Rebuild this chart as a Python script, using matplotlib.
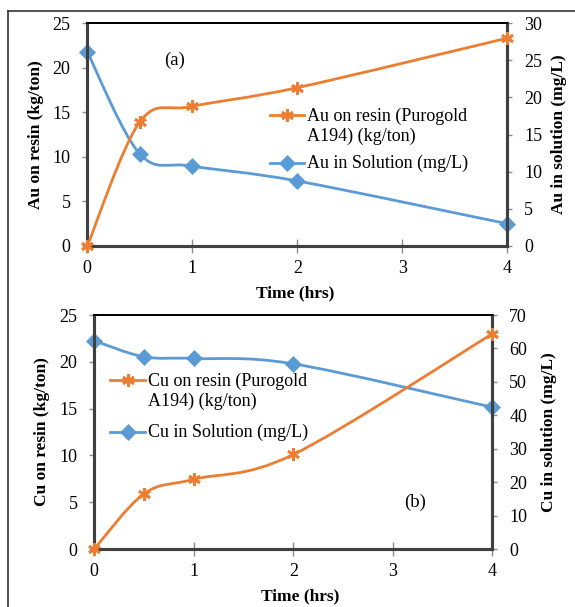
import numpy as np
import matplotlib
matplotlib.use("Agg")
import matplotlib.pyplot as plt
from matplotlib.path import Path
from matplotlib.patches import PathPatch
from matplotlib.lines import Line2D

plt.rcParams['font.family'] = ['Liberation Serif', 'DejaVu Serif']

time_hrs = [0, 0.5, 1, 2, 4]
au_on_resin = [0, 13.9, 15.65, 17.75, 23.3]
au_in_solution = [26.1, 12.4, 10.75, 8.75, 3.0]
cu_on_resin = [0, 5.9, 7.45, 10.1, 23.0]
cu_in_solution = [62.3, 57.5, 57.0, 55.4, 42.4]

ORANGE = '#ED7D31'
BLUE = '#5B9BD5'
SPINE = '#404040'
TICK = '#8C8C8C'
ASTERISK = (6, 2, 0)
W, H = 575, 607


def smooth_path(x, y):
    x = np.asarray(x, float)
    y = np.asarray(y, float)
    n = len(x)
    verts = [(x[0], y[0])]
    codes = [Path.MOVETO]
    for i in range(n - 1):
        i0 = max(i - 1, 0)
        i3 = min(i + 2, n - 1)
        c1 = (x[i] + (x[i + 1] - x[i0]) / 6, y[i] + (y[i + 1] - y[i0]) / 6)
        c2 = (x[i + 1] - (x[i3] - x[i]) / 6, y[i + 1] - (y[i3] - y[i]) / 6)
        verts += [c1, c2, (x[i + 1], y[i + 1])]
        codes += [Path.CURVE4] * 3
    return Path(verts, codes)


def draw_series(ax, x, y, color, marker, ms):
    ax.add_patch(PathPatch(smooth_path(x, y), facecolor='none', edgecolor=color,
                           lw=2.0, clip_on=False, zorder=3))
    ax.plot(x, y, linestyle='none', marker=marker, color=color, ms=ms,
            mew=2.0 if marker == ASTERISK else 0.5, clip_on=False, zorder=4)


def style_axes(ax, ax2):
    for a in (ax, ax2):
        for s in ['left', 'bottom', 'right']:
            a.spines[s].set_color(SPINE)
            a.spines[s].set_linewidth(2.2)
        a.spines['top'].set_color('black')
        a.spines['top'].set_linewidth(1.3)
    ax.tick_params(axis='y', direction='out', length=3.6, width=1, color=TICK,
                   labelsize=13, pad=8.5)
    ax2.tick_params(axis='y', direction='out', length=3.6, width=1, color=TICK,
                    labelsize=13, pad=8.5)
    ax.tick_params(axis='x', direction='inout', length=9.5, width=1, color=TICK,
                   labelsize=13, pad=5)


def fx(px):
    return px / W


def fy(py):
    return 1 - py / H


def manual_legend(fig, x0, x1, xt, entries):
    for (y, color, marker, ms, mew, label, ytext) in entries:
        fig.add_artist(Line2D([fx(x0), fx(x1)], [fy(y), fy(y)], color=color, lw=2,
                              transform=fig.transFigure))
        fig.add_artist(Line2D([fx((x0 + x1) / 2)], [fy(y)], color=color, marker=marker,
                              ms=ms, mew=mew, linestyle='none',
                              transform=fig.transFigure))
        fig.text(fx(xt), fy(ytext), label, fontsize=13, ha='left', va='center')


fig = plt.figure(figsize=(W / 100, H / 100), dpi=100)

# ---------- panel (a) ----------
ax = fig.add_axes([fx(87.3), fy(246), (507.2 - 87.3) / W, 223 / H])
ax2 = ax.twinx()
ax.set_xlim(0, 4)
ax.set_ylim(0, 25)
ax2.set_ylim(0, 30)
ax.set_xticks([0, 1, 2, 3, 4])
ax.set_yticks(range(0, 26, 5))
ax2.set_yticks(range(0, 31, 5))
draw_series(ax2, time_hrs, au_in_solution, BLUE, 'D', 8)
draw_series(ax, time_hrs, au_on_resin, ORANGE, ASTERISK, 9)
ax.set_zorder(ax2.get_zorder() + 1)
ax.patch.set_visible(False)
style_axes(ax, ax2)
ax.set_xlabel('Time (hrs)', fontsize=12.5, fontweight='bold', va='center')
ax.xaxis.set_label_coords(0.4946, -0.2108)
ax.set_ylabel('Au on resin (kg/ton)', fontsize=12.5, fontweight='bold', va='center')
ax.yaxis.set_label_coords(-0.1231, 0.5)
ax2.set_ylabel('Au in solution (mg/L)', fontsize=12.5, fontweight='bold',
               rotation=90, va='center')
ax2.yaxis.set_label_coords(1.1233, 0.5)
fig.text(fx(175), fy(60), '(a)', fontsize=13.5, ha='center', va='center')
manual_legend(fig, 269.5, 304, 307, [
    (115, ORANGE, ASTERISK, 9, 2, 'Au on resin (Purogold\nA194) (kg/ton)', 126),
    (163, BLUE, 'D', 8, 0.5, 'Au in Solution (mg/L)', 163),
])

# ---------- panel (b) ----------
bx = fig.add_axes([fx(94.2), fy(549), (492.5 - 94.2) / W, 234 / H])
bx2 = bx.twinx()
bx.set_xlim(0, 4)
bx.set_ylim(0, 25)
bx2.set_ylim(0, 70)
bx.set_xticks([0, 1, 2, 3, 4])
bx.set_yticks(range(0, 26, 5))
bx2.set_yticks(range(0, 71, 10))
draw_series(bx2, time_hrs, cu_in_solution, BLUE, 'D', 8)
draw_series(bx, time_hrs, cu_on_resin, ORANGE, ASTERISK, 9)
bx.set_zorder(bx2.get_zorder() + 1)
bx.patch.set_visible(False)
style_axes(bx, bx2)
bx.set_xlabel('Time (hrs)', fontsize=12.5, fontweight='bold', va='center')
bx.xaxis.set_label_coords(0.518, -0.2009)
bx.set_ylabel('Cu on resin (kg/ton)', fontsize=12.5, fontweight='bold', va='center')
bx.yaxis.set_label_coords(-0.1311, 0.5)
bx2.set_ylabel('Cu in solution (mg/L)', fontsize=12.5, fontweight='bold',
               rotation=90, va='center')
bx2.yaxis.set_label_coords(1.1419, 0.5)
fig.text(fx(415.5), fy(502), '(b)', fontsize=13.5, ha='center', va='center')
manual_legend(fig, 110, 145, 148.5, [
    (380, ORANGE, ASTERISK, 9, 2, 'Cu on resin (Purogold\nA194) (kg/ton)', 391),
    (432, BLUE, 'D', 8, 0.5, 'Cu in Solution (mg/L)', 432),
])

# outer frame lines
fig.add_artist(Line2D([fx(8.3), fx(8.3)], [0, fy(10.7)], color='#333333', lw=1.2,
                      transform=fig.transFigure))
fig.add_artist(Line2D([fx(8.3), 1], [fy(10.7), fy(10.7)], color='#333333', lw=1.2,
                      transform=fig.transFigure))

fig.savefig('out.png', dpi=100)
